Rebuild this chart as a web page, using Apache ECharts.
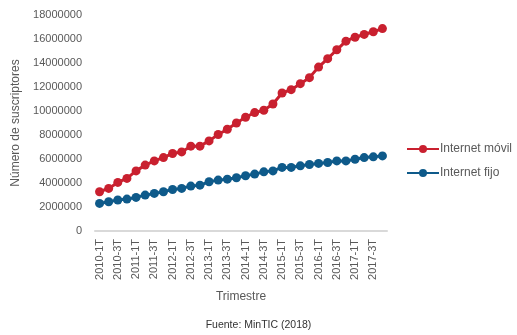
<!DOCTYPE html>
<html><head><meta charset="utf-8">
<script src="https://cdn.jsdelivr.net/npm/echarts@6/dist/echarts.min.js"></script>
<style>html,body{margin:0;padding:0;background:#fff}#c{width:517px;height:335px}</style>
</head><body><div id="c"></div>
<script>
const years = [2010,2011,2012,2013,2014,2015,2016,2017];
const quarters = ['1T','2T','3T','4T'];
const categories = [];
years.forEach(y => quarters.forEach(q => categories.push(y + '-' + q)));
const movil = [3270000,3550000,4050000,4380000,5010000,5490000,5840000,6120000,6460000,6590000,7070000,7070000,7510000,8040000,8480000,9000000,9480000,9870000,10060000,10580000,11500000,11780000,12280000,12780000,13660000,14360000,15100000,15820000,16150000,16380000,16600000,16870000];
const fijo = [2300000,2440000,2580000,2660000,2800000,2990000,3130000,3270000,3460000,3550000,3740000,3820000,4100000,4240000,4320000,4440000,4600000,4740000,4930000,5010000,5300000,5300000,5430000,5540000,5630000,5710000,5840000,5840000,5980000,6120000,6180000,6260000];
const yTicks = {min:0, max:18000000, interval:2000000};
const font = 'Liberation Sans';
const chart = echarts.init(document.getElementById('c'));
chart.setOption({
  animation:false,
  textStyle:{fontFamily:font},
  grid:{left:95, right:130, top:15, bottom:104},
  legend:{orient:'vertical', left:401, top:138, itemWidth:32, itemHeight:10, itemGap:12,
    textStyle:{fontFamily:font, fontSize:12, color:'#595959', padding:[0,0,0,-4]},
    data:['Internet móvil','Internet fijo']},
  graphic:[{type:'text', left:'center', top:320, style:{text:'Fuente: MinTIC (2018)', fontFamily:font, fontSize:10.5, fill:'#333'}}],
  xAxis:{type:'category', data:categories, boundaryGap:true,
    name:'Trimestre', nameLocation:'middle', nameGap:60,
    nameTextStyle:{fontFamily:font, fontSize:12, color:'#595959'},
    axisLine:{lineStyle:{color:'#d9d9d9', width:2}},
    axisTick:{show:false},
    axisLabel:{interval:1, rotate:90, fontSize:11, color:'#595959', margin:8}},
  yAxis:{type:'value', min:yTicks.min, max:yTicks.max, interval:yTicks.interval,
    name:'Número de suscriptores', nameLocation:'middle', nameGap:62,
    nameTextStyle:{fontFamily:font, fontSize:12, color:'#595959'},
    axisLine:{show:false}, axisTick:{show:false}, splitLine:{show:false},
    axisLabel:{fontSize:11, color:'#595959', margin:13, formatter:v => String(v)}},
  series:[
    {name:'Internet móvil', type:'line', data:movil, symbol:'circle', symbolSize:9, showAllSymbol:true,
     itemStyle:{color:'#C9202F'}, lineStyle:{color:'#C9202F', width:3}},
    {name:'Internet fijo', type:'line', data:fijo, symbol:'circle', symbolSize:9, showAllSymbol:true,
     itemStyle:{color:'#0E5A8A'}, lineStyle:{color:'#0E5A8A', width:3}}
  ]
});
</script></body></html>
